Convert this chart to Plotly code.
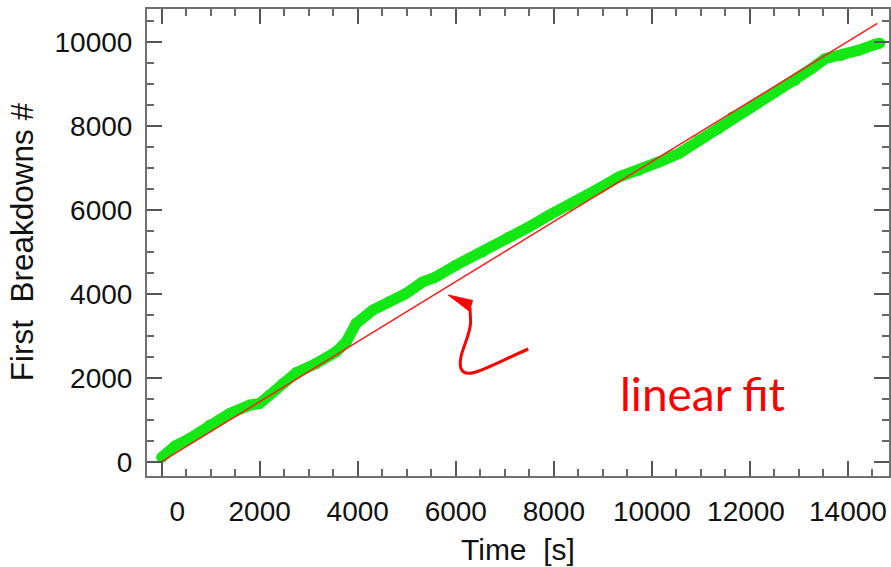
import plotly.graph_objects as go

# ---- data ----
time_s = [0, 271, 576, 983, 1390, 1797, 2000, 2203, 2474, 2747, 3154, 3561, 3764,
          3967, 4305, 4645, 4985, 5323, 5561, 6002, 6543, 7087, 7493, 7900, 8307,
          8633, 8918, 9325, 9732, 10139, 10546, 10953, 11360, 11644, 12036, 12513,
          12920, 13257, 13530, 13868, 14207, 14547, 14650]
breakdowns = [105, 374, 557, 874, 1152, 1350, 1390, 1588, 1867, 2124, 2343, 2619, 2857,
              3295, 3612, 3810, 4010, 4286, 4386, 4683, 5000, 5357, 5595, 5874, 6112,
              6314, 6510, 6786, 6945, 7143, 7343, 7660, 7938, 8214, 8453, 8810,
              9088, 9367, 9605, 9684, 9803, 9945, 9976]
fit_time = [0, 14600]
fit_breakdowns = [0, 10445]

x_ticks = [0, 2000, 4000, 6000, 8000, 10000, 12000, 14000]
x_tick_labels = ["\u00a0\u00a0\u00a0\u00a00", "2000", "4000", "6000", "8000", "10000",
                 "12000\u00a0", "14000"]
y_ticks = [0, 2000, 4000, 6000, 8000, 10000]
y_tick_labels = ["0", "2000", "4000", "6000", "8000", "10000"]

W, H = 891, 567
ML, MR, MT, MB = 147, 0, 9, 91
PW, PH = W - ML - MR, H - MT - MB


def px(x, y):
    return (x - ML) / PW, (H - MB - y) / PH


fig = go.Figure()
fig.add_trace(go.Scatter(x=time_s, y=breakdowns, mode="lines+markers",
                         line=dict(color="#14e814", width=11),
                         marker=dict(color="#14e814", size=11),
                         showlegend=False, hoverinfo="skip"))
fig.add_trace(go.Scatter(x=fit_time, y=fit_breakdowns, mode="lines",
                         line=dict(color="#ff1a1a", width=1.5),
                         showlegend=False, hoverinfo="skip"))

axis_common = dict(
    showline=True, linecolor="#707070", linewidth=2, mirror="allticks",
    ticks="inside", ticklen=15, tickwidth=1.5, tickcolor="#555555",
    showgrid=False, zeroline=False,
    tickfont=dict(family="Liberation Sans, Arial", size=28, color="#111111"),
)

fig.update_xaxes(range=[-299, 14838], tickvals=x_ticks, ticktext=x_tick_labels,
                 minor=dict(dtick=500, tick0=0, ticks="inside", ticklen=7,
                            tickwidth=1.5, tickcolor="#666666", showgrid=False),
                 ticklabelstandoff=9, **axis_common)
fig.update_yaxes(range=[-340, 10790], tickvals=y_ticks, ticktext=y_tick_labels,
                 minor=dict(dtick=500, tick0=0, ticks="inside", ticklen=7,
                            tickwidth=1.5, tickcolor="#666666", showgrid=False),
                 ticklabelstandoff=7, **axis_common)

# curved arrow (decoration, in pixel-derived paper coords)
pts = [(529.3, 349), (490, 366), (466, 382), (461.7, 368),
       (458, 355), (472, 336), (471.5, 321), (470.8, 307)]
p = [px(*q) for q in pts]
path = "M {},{} C {},{} {},{} {},{} C {},{} {},{} {},{} L {},{}".format(
    *[c for xy in p for c in xy])
fig.add_shape(type="path", xref="paper", yref="paper", path=path,
              line=dict(color="#ff0000", width=3))
head = [px(449, 295), px(473.5, 300.5), px(470, 311)]
hpath = "M {},{} L {},{} L {},{} Z".format(*[c for xy in head for c in xy])
fig.add_shape(type="path", xref="paper", yref="paper", path=hpath,
              line=dict(color="#ff0000", width=1), fillcolor="#ff0000")

# text
fx, fy = px(704, 393)
fig.add_annotation(x=fx, y=fy, xref="paper", yref="paper", text="linear fit",
                   showarrow=False, xanchor="center", yanchor="middle",
                   font=dict(family="Lato, Carlito, sans-serif", size=46, color="#ff0000"))
tx, ty = px(519, 549)
fig.add_annotation(x=tx, y=ty, xref="paper", yref="paper", text="Time  [s]",
                   showarrow=False, xanchor="center", yanchor="middle",
                   font=dict(family="Liberation Sans, Arial", size=30, color="#111111"))
yx, yy = px(22, 242)
fig.add_annotation(x=yx, y=yy, xref="paper", yref="paper", text="First  Breakdowns #",
                   showarrow=False, xanchor="center", yanchor="middle", textangle=-90,
                   font=dict(family="Liberation Sans, Arial", size=31.5, color="#111111"))

fig.update_layout(width=W, height=H, margin=dict(l=ML, r=MR, t=MT, b=MB),
                  paper_bgcolor="white", plot_bgcolor="white")

fig.write_html("out.html")
